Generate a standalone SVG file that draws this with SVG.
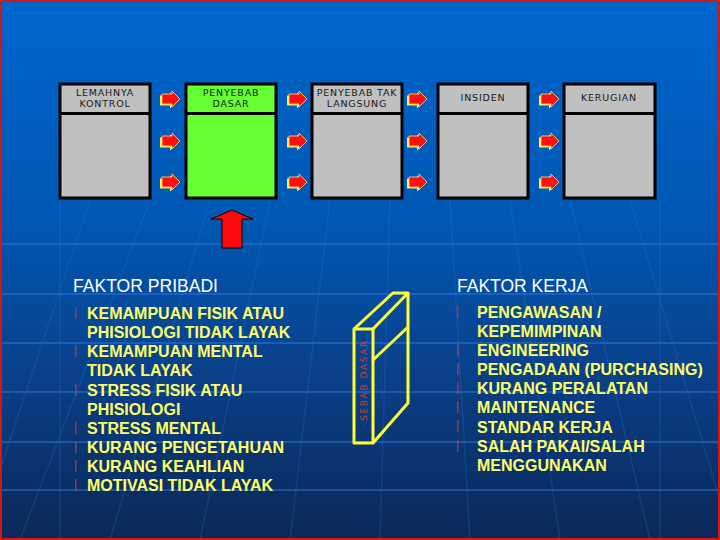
<svg xmlns="http://www.w3.org/2000/svg" width="720" height="540" viewBox="0 0 720 540">
<defs>
<linearGradient id="bg" x1="0" y1="0" x2="0" y2="1">
<stop offset="0" stop-color="#0066cc"/>
<stop offset="0.4" stop-color="#0058b4"/>
<stop offset="0.7" stop-color="#0a3f88"/>
<stop offset="1" stop-color="#0b2856"/>
</linearGradient>
<polygon id="arr" points="0,-5 10,-5 10,-8 18,0 10,8 10,5 0,5"/>
</defs>
<style>
.box{stroke:#000;stroke-width:3}
.gray{fill:#c0c0c0}
.green{fill:#66ff33}
.hdr{font-family:"DejaVu Sans",sans-serif;font-size:9.5px;letter-spacing:0.8px;fill:#1a1a1a;text-anchor:middle}
.ttl{font-family:"Liberation Sans",Arial,sans-serif;font-size:18px;fill:#ffffff}
.itm{font-family:"Liberation Sans",Arial,sans-serif;font-size:16px;font-weight:bold;fill:#ffff66}
.bul{fill:#b04040;opacity:0.8}
.grid{stroke:#2d7fe0;stroke-width:2;opacity:0.45}
.fan{stroke:#2f7fdc;stroke-width:1.5;opacity:0.22;fill:none}
.sh{fill:#ffee55}
.rd{fill:#ff1010;stroke:#ffe070;stroke-width:0.8}
</style>
<rect x="0" y="0" width="720" height="540" fill="url(#bg)"/>
<g id="background-grid">
<line class="grid" x1="0" y1="244" x2="720" y2="244"/>
<line class="grid" x1="0" y1="294" x2="720" y2="294"/>
<line class="grid" x1="0" y1="343" x2="720" y2="343"/>
<line class="grid" x1="0" y1="392" x2="720" y2="392"/>
<line class="grid" x1="0" y1="442" x2="720" y2="442"/>
<line class="grid" x1="0" y1="490" x2="720" y2="490"/>
<path class="fan" d="M330 200 L290 540 M270 200 L200 540 M210 200 L110 540 M150 200 L20 540 M390 200 L380 540 M450 200 L470 540 M510 200 L560 540 M570 200 L650 540 M630 200 L720 500 M90 200 L0 470 M60 200 L60 540 M660 200 L660 540"/>
</g>
<rect x="1" y="1" width="718" height="538" fill="none" stroke="#d01818" stroke-width="2"/>
<g id="node-lemahnya-kontrol">
<rect class="box gray" x="60" y="84" width="90" height="114"/>
<line class="box" x1="60" y1="113.5" x2="150" y2="113.5"/>
<text class="hdr" x="105" y="96">LEMAHNYA</text>
<text class="hdr" x="105" y="107">KONTROL</text>
</g>
<g id="node-penyebab-dasar">
<rect class="box green" x="186" y="84" width="90" height="114"/>
<line class="box" x1="186" y1="113.5" x2="276" y2="113.5"/>
<text class="hdr" x="231" y="96">PENYEBAB</text>
<text class="hdr" x="231" y="107">DASAR</text>
</g>
<g id="node-penyebab-tak-langsung">
<rect class="box gray" x="312" y="84" width="90" height="114"/>
<line class="box" x1="312" y1="113.5" x2="402" y2="113.5"/>
<text class="hdr" x="357" y="96">PENYEBAB TAK</text>
<text class="hdr" x="357" y="107">LANGSUNG</text>
</g>
<g id="node-insiden">
<rect class="box gray" x="438" y="84" width="90" height="114"/>
<line class="box" x1="438" y1="113.5" x2="528" y2="113.5"/>
<text class="hdr" x="483" y="101">INSIDEN</text>
</g>
<g id="node-kerugian">
<rect class="box gray" x="564" y="84" width="91" height="114"/>
<line class="box" x1="564" y1="113.5" x2="655" y2="113.5"/>
<text class="hdr" x="609" y="101">KERUGIAN</text>
</g>
<g id="connectors">
<g transform="translate(162,99)"><use href="#arr" class="sh" x="-2" y="1.5"/><use href="#arr" class="rd"/></g>
<g transform="translate(162,141)"><use href="#arr" class="sh" x="-2" y="1.5"/><use href="#arr" class="rd"/></g>
<g transform="translate(162,182)"><use href="#arr" class="sh" x="-2" y="1.5"/><use href="#arr" class="rd"/></g>
<g transform="translate(289,99)"><use href="#arr" class="sh" x="-2" y="1.5"/><use href="#arr" class="rd"/></g>
<g transform="translate(289,141)"><use href="#arr" class="sh" x="-2" y="1.5"/><use href="#arr" class="rd"/></g>
<g transform="translate(289,182)"><use href="#arr" class="sh" x="-2" y="1.5"/><use href="#arr" class="rd"/></g>
<g transform="translate(409,99)"><use href="#arr" class="sh" x="-2" y="1.5"/><use href="#arr" class="rd"/></g>
<g transform="translate(409,141)"><use href="#arr" class="sh" x="-2" y="1.5"/><use href="#arr" class="rd"/></g>
<g transform="translate(409,182)"><use href="#arr" class="sh" x="-2" y="1.5"/><use href="#arr" class="rd"/></g>
<g transform="translate(541,99)"><use href="#arr" class="sh" x="-2" y="1.5"/><use href="#arr" class="rd"/></g>
<g transform="translate(541,141)"><use href="#arr" class="sh" x="-2" y="1.5"/><use href="#arr" class="rd"/></g>
<g transform="translate(541,182)"><use href="#arr" class="sh" x="-2" y="1.5"/><use href="#arr" class="rd"/></g>
<polygon points="232,210 253,219 242,219 242,248 222,248 222,219 211,219" fill="#ff0a0a" stroke="#000" stroke-width="1"/>
</g>
<g id="node-faktor-pribadi">
<text class="ttl" x="73" y="292" textLength="145" lengthAdjust="spacingAndGlyphs">FAKTOR PRIBADI</text>
<rect class="bul" x="75" y="307" width="1.5" height="12"/>
<rect class="bul" x="75" y="345" width="1.5" height="12"/>
<rect class="bul" x="75" y="384" width="1.5" height="12"/>
<rect class="bul" x="75" y="422" width="1.5" height="12"/>
<rect class="bul" x="75" y="441" width="1.5" height="12"/>
<rect class="bul" x="75" y="460" width="1.5" height="12"/>
<rect class="bul" x="75" y="479" width="1.5" height="12"/>
<text class="itm" x="87" y="319">KEMAMPUAN FISIK ATAU</text>
<text class="itm" x="87" y="338">PHISIOLOGI TIDAK LAYAK</text>
<text class="itm" x="87" y="357">KEMAMPUAN MENTAL</text>
<text class="itm" x="87" y="376">TIDAK LAYAK</text>
<text class="itm" x="87" y="395.5">STRESS FISIK ATAU</text>
<text class="itm" x="87" y="414.5">PHISIOLOGI</text>
<text class="itm" x="87" y="434">STRESS MENTAL</text>
<text class="itm" x="87" y="453">KURANG PENGETAHUAN</text>
<text class="itm" x="87" y="472">KURANG KEAHLIAN</text>
<text class="itm" x="87" y="491">MOTIVASI TIDAK LAYAK</text>
</g>
<g id="node-sebab-dasar">
<g fill="none" stroke="#ffff33" stroke-width="3" stroke-linejoin="round">
<rect x="354" y="329" width="19" height="114"/>
<polyline points="354,329 393,293 408,293 373,329"/>
<polyline points="408,293 408,403 373,443"/>
<line x1="373" y1="360" x2="408" y2="327"/>
</g>
<text x="0" y="0" transform="translate(367,380) rotate(-90)" font-family="DejaVu Sans, sans-serif" font-size="9" letter-spacing="1.6" fill="#c8402a" text-anchor="middle">SEBAB DASAR</text>
</g>
<g id="node-faktor-kerja">
<text class="ttl" x="457" y="292" textLength="131" lengthAdjust="spacingAndGlyphs">FAKTOR KERJA</text>
<rect class="bul" x="457" y="306" width="1.5" height="12"/>
<rect class="bul" x="457" y="344" width="1.5" height="12"/>
<rect class="bul" x="457" y="363" width="1.5" height="12"/>
<rect class="bul" x="457" y="382" width="1.5" height="12"/>
<rect class="bul" x="457" y="401" width="1.5" height="12"/>
<rect class="bul" x="457" y="420" width="1.5" height="12"/>
<rect class="bul" x="457" y="440" width="1.5" height="12"/>
<text class="itm" x="477" y="318">PENGAWASAN /</text>
<text class="itm" x="477" y="336.5">KEPEMIMPINAN</text>
<text class="itm" x="477" y="356">ENGINEERING</text>
<text class="itm" x="477" y="375">PENGADAAN (PURCHASING)</text>
<text class="itm" x="477" y="394">KURANG PERALATAN</text>
<text class="itm" x="477" y="413">MAINTENANCE</text>
<text class="itm" x="477" y="432.5">STANDAR KERJA</text>
<text class="itm" x="477" y="452">SALAH PAKAI/SALAH</text>
<text class="itm" x="477" y="471">MENGGUNAKAN</text>
</g>
</svg>
